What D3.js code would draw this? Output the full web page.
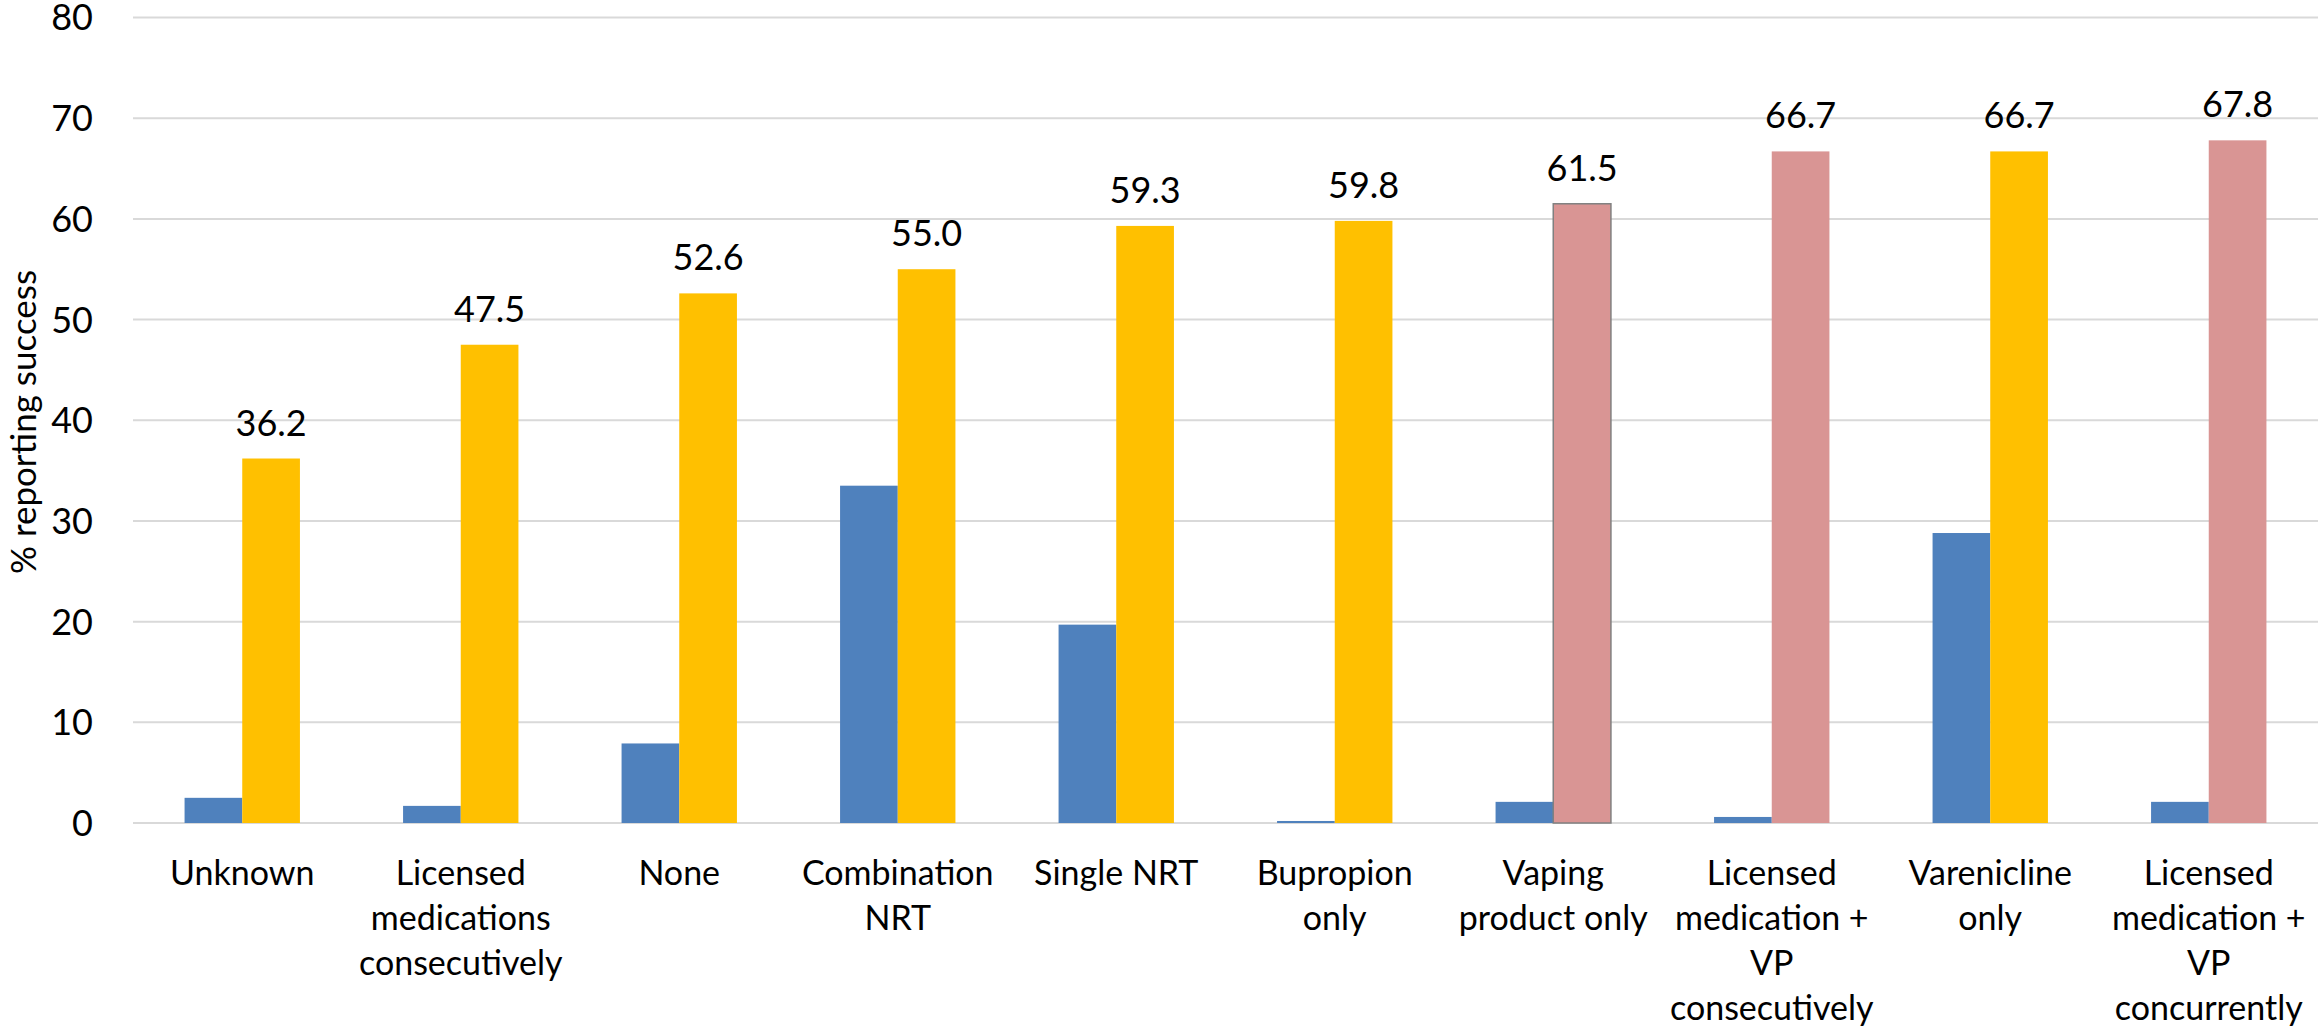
<!DOCTYPE html>
<html>
<head>
<meta charset="utf-8">
<script src="https://cdn.jsdelivr.net/npm/d3@7"></script>
<style>
  html, body { margin: 0; padding: 0; background: #fff; }
  svg { display: block; }
  text { font-family: Lato, "Open Sans", sans-serif; fill: #000; }
</style>
</head>
<body>
<svg id="chart" width="2318" height="1030"></svg>
<script>
// Quit methods, each label line kept separately
const categories = [
  ["Unknown"],
  ["Licensed", "medications", "consecutively"],
  ["None"],
  ["Combination", "NRT"],
  ["Single NRT"],
  ["Bupropion", "only"],
  ["Vaping", "product only"],
  ["Licensed", "medication +", "VP", "consecutively"],
  ["Varenicline", "only"],
  ["Licensed", "medication +", "VP", "concurrently"]
];
// Share of users of each method (%)
const usageShare = [2.5, 1.7, 7.9, 33.5, 19.7, 0.2, 2.1, 0.6, 28.8, 2.1];
// % reporting success with each method
const successRate = [36.2, 47.5, 52.6, 55.0, 59.3, 59.8, 61.5, 66.7, 66.7, 67.8];
// Whether the method involves a vaping product
const involvesVaping = [false, false, false, false, false, false, true, true, false, true];
const yTicks = [0, 10, 20, 30, 40, 50, 60, 70, 80];

const svg = d3.select("#chart");
const plot = { left: 133, right: 2318, top: 17.5, bottom: 823 };

const x = d3.scaleBand()
  .domain(d3.range(categories.length))
  .range([plot.left, plot.right])
  .paddingInner(0).paddingOuter(0);

const y = d3.scaleLinear().domain([0, 80]).range([plot.bottom, plot.top]);

const barW = x.bandwidth() * 0.264;

// Horizontal gridlines
svg.append("g").selectAll("line").data(yTicks).join("line")
  .attr("x1", plot.left).attr("x2", plot.right)
  .attr("y1", d => y(d)).attr("y2", d => y(d))
  .attr("stroke", "#d9d9d9").attr("stroke-width", 2);

// Y tick labels
svg.append("g").selectAll("text").data(yTicks).join("text")
  .attr("x", 93).attr("y", d => y(d))
  .attr("dy", "0.36em")
  .attr("text-anchor", "end")
  .style("font-size", "36px")
  .text(d => d);

// Y axis title
svg.append("text")
  .attr("transform", "translate(36,422) rotate(-90)")
  .attr("text-anchor", "middle")
  .style("font-size", "35px")
  .text("% reporting success");

const groups = svg.append("g").selectAll("g").data(categories).join("g")
  .attr("transform", (d, i) => `translate(${x(i) + x.bandwidth() / 2},0)`);

// Usage bars
groups.append("rect")
  .attr("x", -barW)
  .attr("width", barW)
  .attr("y", (d, i) => y(usageShare[i]))
  .attr("height", (d, i) => y(0) - y(usageShare[i]))
  .attr("fill", "#4f81bd");

// Success bars
groups.append("rect")
  .attr("x", 0)
  .attr("width", barW)
  .attr("y", (d, i) => y(successRate[i]))
  .attr("height", (d, i) => y(0) - y(successRate[i]))
  .attr("fill", (d, i) => involvesVaping[i] ? "#d99594" : "#ffc000")
  .attr("stroke", (d, i) => i === 6 ? "#808080" : "none")
  .attr("stroke-width", 1.5);

// Value labels above success bars
groups.append("text")
  .attr("x", barW / 2)
  .attr("y", (d, i) => y(successRate[i]) - 23)
  .attr("text-anchor", "middle")
  .style("font-size", "36px")
  .text((d, i) => successRate[i].toFixed(1));

// Category labels
groups.append("text")
  .attr("text-anchor", "middle")
  .style("font-size", "34px")
  .selectAll("tspan").data(d => d).join("tspan")
  .attr("x", 0)
  .attr("y", (d, j) => 885 + j * 45)
  .text(d => d);
</script>
</body>
</html>
